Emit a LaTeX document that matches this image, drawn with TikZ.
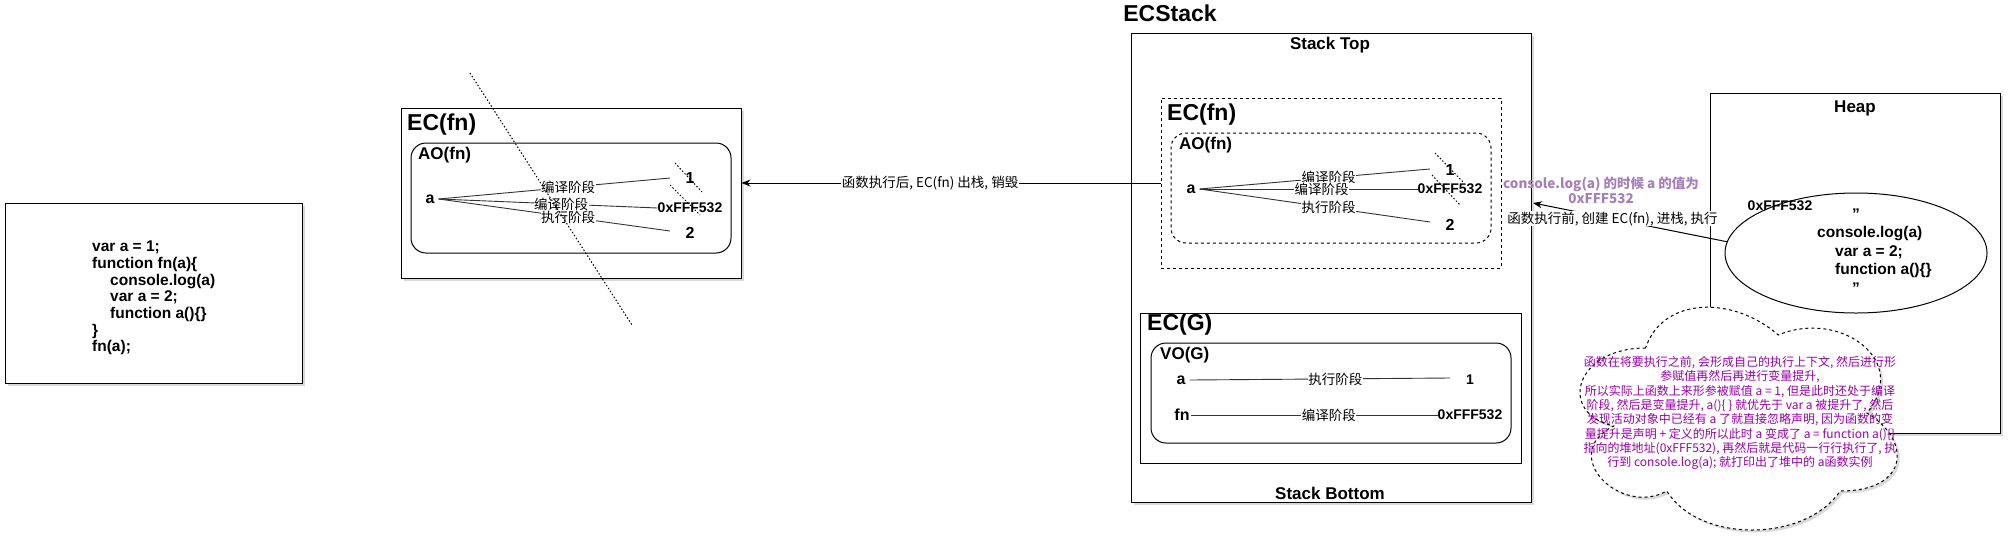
\documentclass[tikz,border=0pt]{standalone}
\usepackage{fontspec}
\setmainfont{Liberation Sans}
\newfontfamily\cjk{Noto Sans CJK SC}
\usetikzlibrary{arrows.meta,shadows,shapes.geometric}
\definecolor{lav}{RGB}{166,128,184}
\definecolor{notepurple}{RGB}{153,0,170}

\begin{document}
\begin{tikzpicture}[x=1pt, y=-1pt,
	panel/.style = {draw, fill=white, line width=1pt, inner sep=0pt,
		drop shadow={opacity=0.3, shadow xshift=2.5pt, shadow yshift=-2.5pt}},
	dpanel/.style = {draw, line width=1pt, inner sep=0pt, dash pattern=on 3pt off 3pt},
	objbox/.style = {draw, line width=1pt, inner sep=0pt, rounded corners=15pt},
	ectitle/.style = {font=\bfseries\fontsize{23}{27}\selectfont, anchor=west, inner sep=0pt},
	objtitle/.style = {font=\bfseries\fontsize{17}{20}\selectfont, anchor=west, inner sep=0pt},
	head/.style = {font=\bfseries\fontsize{17}{20}\selectfont, inner sep=0pt},
	vname/.style = {font=\bfseries\fontsize{16}{19}\selectfont, inner xsep=4pt, inner ysep=0pt},
	addr/.style = {font=\bfseries\fontsize{14}{17}\selectfont, inner sep=0pt},
	wire/.style = {draw=black!80, line width=0.9pt},
	phase/.style = {font=\cjk\fontsize{13.5}{16}\selectfont, fill=white, inner sep=0.5pt, pos=0.56},
	strikeline/.style = {line width=1pt, dash pattern=on 1.5pt off 2pt},
	arr/.style = {line width=1pt, -{Stealth[length=9pt, width=7pt]}}]

	\useasboundingbox (0,0) rectangle (2012,555);

	\node[panel, minimum width=297pt, minimum height=180pt] (code) at (153.5,293) {};
	\node[font=\bfseries\fontsize{15.5}{16.7}\selectfont, align=left, anchor=west, inner sep=0pt] (src) at (92,298)
		{var a = 1;\\function fn(a)\{\\\hspace*{18pt}console.log(a)\\\hspace*{18pt}var a = 2;\\\hspace*{18pt}function a()\{\}\\\}\\fn(a);};

	\node[panel, minimum width=340pt, minimum height=170pt] (ecfnL) at (571,193) {};
	\node[ectitle] (ecfnLt) at (407,125) {EC(fn)};
	\node[objbox, minimum width=320pt, minimum height=110pt] (aofnL) at (571,198) {};
	\node[objtitle] (aofnLt) at (418,155) {AO(fn)};
	\node[vname] (aL) at (430,199) {a};
	\node[vname] (vL1) at (690,178) {1};
	\node[addr] (vLx) at (690,208) {0xFFF532};
	\node[vname] (vL2) at (690,233) {2};
	\coordinate (eL1) at (670,178);
	\coordinate (eL2) at (670,231);
	\draw[wire] (aL.east) -- node[phase] {编译阶段} (eL1);
	\draw[wire] (aL.east) -- node[phase] {编译阶段} (vLx.west);
	\draw[wire] (aL.east) -- node[phase] {执行阶段} (eL2);
	\draw[strikeline] (675,163) -- (702,192);
	\draw[strikeline] (670,185) -- (700,215);
	\draw[strikeline] (470,73) -- (632,325);

	\node[font=\bfseries\fontsize{23}{27}\selectfont, inner sep=0pt] (ecs) at (1170,13) {ECStack};
	\node[panel, minimum width=400pt, minimum height=469pt] (stack) at (1331,267.5) {};
	\node[head] (stop) at (1330,45) {Stack Top};
	\node[head] (sbot) at (1330,493) {Stack Bottom};

	\node[dpanel, minimum width=340pt, minimum height=170pt] (ecfnR) at (1331,183) {};
	\node[ectitle] (ecfnRt) at (1167,115) {EC(fn)};
	\node[dpanel, rounded corners=15pt, minimum width=320pt, minimum height=110pt] (aofnR) at (1331,188) {};
	\node[objtitle] (aofnRt) at (1179,145) {AO(fn)};
	\node[vname] (aR) at (1191,189) {a};
	\node[vname] (vR1) at (1450,170) {1};
	\node[addr] (vRx) at (1450,189) {0xFFF532};
	\node[vname] (vR2) at (1450,225) {2};
	\coordinate (eR1) at (1430,169);
	\coordinate (eR2) at (1430,222);
	\draw[wire] (aR.east) -- node[phase] {编译阶段} (eR1);
	\draw[wire] (aR.east) -- node[phase] {编译阶段} (vRx.west);
	\draw[wire] (aR.east) -- node[phase] {执行阶段} (eR2);
	\draw[strikeline] (1435,153) -- (1463,182);
	\draw[strikeline] (1432,175) -- (1460,205);

	\node[draw, line width=1pt, inner sep=0pt, minimum width=381pt, minimum height=150pt] (ecg) at (1330.5,388) {};
	\node[ectitle] (ecgt) at (1147,325) {EC(G)};
	\node[objbox, minimum width=360pt, minimum height=100pt] (vog) at (1331,393) {};
	\node[objtitle] (vogt) at (1160,355) {VO(G)};
	\node[vname] (aG) at (1181,380) {a};
	\node[vname, inner xsep=1pt] (fnG) at (1182,415) {fn};
	\node[font=\bfseries\fontsize{14}{17}\selectfont, inner sep=0pt] (vG1) at (1470,380) {1};
	\node[addr] (vGx) at (1470,415) {0xFFF532};
	\coordinate (eG1) at (1450,378);
	\draw[wire] (aG.east) -- node[phase] {执行阶段} (eG1);
	\draw[wire] (fnG.east) -- node[phase] {编译阶段} (vGx.west);

	\draw[arr] (ecfnR.west) -- node[phase, pos=0.55] {函数执行后, EC(fn) 出栈, 销毁} (ecfnR.west -| ecfnL.east);

	\node[panel, minimum width=290pt, minimum height=340pt] (heap) at (1855,263) {};
	\node[head] (heapt) at (1855,108) {Heap};
	\node[ellipse, draw, line width=1pt, fill=white, inner sep=0pt, minimum width=262pt, minimum height=120pt] (ell) at (1856,253) {};
	\node[addr] (hx) at (1780,206) {0xFFF532};
	\node[font=\bfseries\fontsize{15.5}{18.5}\selectfont, align=left, anchor=west, inner sep=0pt] (body) at (1817,251)
		{\hspace*{35pt}\char34\\console.log(a)\\\hspace*{18pt}var a = 2;\\\hspace*{18pt}function a()\{\}\\\hspace*{35pt}\char34};

	\coordinate (stackin) at (1533,203);
	\draw[arr] (ell.175) -- node[phase, pos=0.59] {函数执行前, 创建 EC(fn), 进栈, 执行} (stackin);
	\node[font=\cjk\bfseries\fontsize{13.5}{15}\selectfont, text=lav, align=center, inner sep=0pt] (peek) at (1601,190)
		{console.log(a) 的时候 a 的值为\\0xFFF532};

	\begin{scope}[shift={(1557,283)}, x=354pt, y=-260pt]
		\draw[fill=white, line width=1pt, dash pattern=on 3pt off 3pt,
			drop shadow={opacity=0.3, shadow xshift=2.5pt, shadow yshift=-2.5pt}]
			(0.25,0.25) .. controls (0.05,0.25) and (0,0.5) .. (0.16,0.55)
			.. controls (0,0.66) and (0.18,0.9) .. (0.31,0.8)
			.. controls (0.4,1) and (0.7,1) .. (0.8,0.8)
			.. controls (1,0.8) and (1,0.6) .. (0.875,0.5)
			.. controls (1,0.3) and (0.8,0.1) .. (0.625,0.2)
			.. controls (0.5,0.05) and (0.3,0.05) .. (0.25,0.25) -- cycle;
	\end{scope}
	\node[font=\cjk\fontsize{12}{14.3}\selectfont, text=notepurple, align=center, inner sep=0pt] (note) at (1740,413)
		{函数在将要执行之前, 会形成自己的执行上下文, 然后进行形\\
		参赋值再然后再进行变量提升,\\
		所以实际上函数上来形参被赋值 a = 1, 但是此时还处于编译\\
		阶段, 然后是变量提升, a()\{ \} 就优先于 var a 被提升了, 然后\\
		发现活动对象中已经有 a 了就直接忽略声明, 因为函数的变\\
		量提升是声明 + 定义的所以此时 a 变成了 a = function a()\{\}\\
		指向的堆地址(0xFFF532), 再然后就是代码一行行执行了, 执\\
		行到 console.log(a); 就打印出了堆中的 a函数实例};
\end{tikzpicture}
\end{document}
